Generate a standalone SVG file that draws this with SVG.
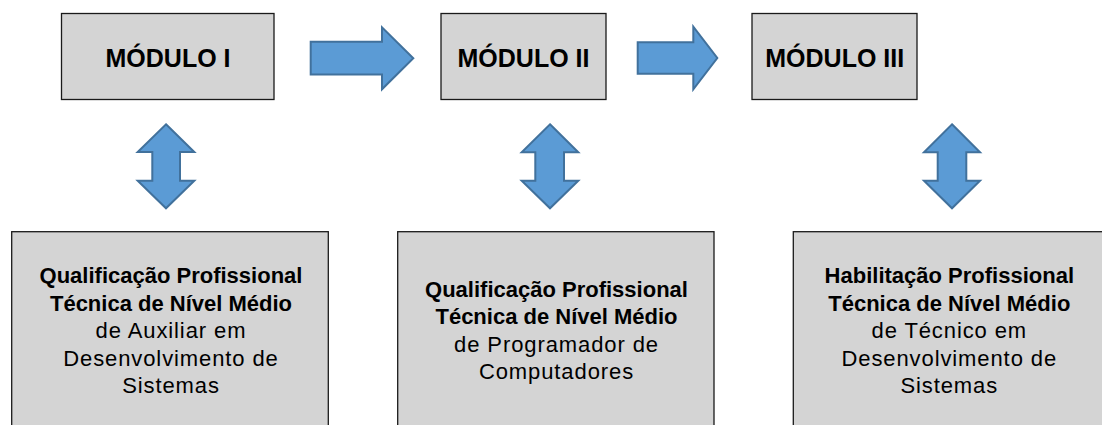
<svg xmlns="http://www.w3.org/2000/svg" width="1102" height="425" viewBox="0 0 1102 425">
<defs>
<style>
.box{fill:#d4d4d4;stroke:#1a1a1a;stroke-width:1.3}
.arr{fill:#5b9bd5;stroke:#41719c;stroke-width:2;stroke-linejoin:miter}
.t{font-family:"Liberation Sans",Arial,sans-serif;fill:#000;text-anchor:middle}
.h{font-size:25px;font-weight:bold}
.b{font-size:22px;font-weight:bold}
.n{font-size:22px;letter-spacing:0.9px}
</style>
</defs>
<rect width="1102" height="425" fill="#fff"/>
<g id="mod1">
<rect class="box" x="61.5" y="13.5" width="212.5" height="86"/>
<text class="t h" x="168" y="67">MÓDULO I</text>
</g>
<g id="mod2">
<rect class="box" x="441" y="13.5" width="165" height="86"/>
<text class="t h" x="523.5" y="67">MÓDULO II</text>
</g>
<g id="mod3">
<rect class="box" x="752" y="13.5" width="165" height="86"/>
<text class="t h" x="834.7" y="67">MÓDULO III</text>
</g>
<g id="q1">
<rect class="box" x="11.7" y="231.7" width="316.6" height="200"/>
<text class="t b" x="171" y="283">Qualificação Profissional</text>
<text class="t b" x="171" y="310.5">Técnica de Nível Médio</text>
<text class="t n" x="171" y="338">de Auxiliar em</text>
<text class="t n" x="171" y="365.5">Desenvolvimento de</text>
<text class="t n" x="171" y="393">Sistemas</text>
</g>
<g id="q2">
<rect class="box" x="397.7" y="231.7" width="316.3" height="200"/>
<text class="t b" x="556.5" y="296.5">Qualificação Profissional</text>
<text class="t b" x="556.5" y="324">Técnica de Nível Médio</text>
<text class="t n" x="556.5" y="351.5">de Programador de</text>
<text class="t n" x="556.5" y="379">Computadores</text>
</g>
<g id="h3">
<rect class="box" x="793.3" y="231.7" width="316" height="200"/>
<text class="t b" x="949.3" y="283">Habilitação Profissional</text>
<text class="t b" x="949.3" y="310.5">Técnica de Nível Médio</text>
<text class="t n" x="949.3" y="338">de Técnico em</text>
<text class="t n" x="949.3" y="365.5">Desenvolvimento de</text>
<text class="t n" x="949.3" y="393">Sistemas</text>
</g>
<g id="connectors">
<polygon class="arr" points="310.7,41.7 382,41.7 382,27.3 413.3,58.3 382,89.3 382,74.5 310.7,74.5"/>
<polygon class="arr" points="637.7,42.3 693.3,42.3 693.3,26.7 717.3,58 693.3,89.3 693.3,73.7 637.7,73.7"/>
<polygon class="arr" points="166,124.3 194.3,152 180,152 180,180.7 194.3,180.7 166,208.3 137.7,180.7 152.3,180.7 152.3,152 137.7,152"/>
<polygon class="arr" points="550,124.3 578.3,152.3 564,152.3 564,180.7 578.3,180.7 550,208.3 521.7,180.7 535.3,180.7 535.3,152.3 521.7,152.3"/>
<polygon class="arr" points="952,124.3 980,152.3 966.3,152.3 966.3,180.7 980,180.7 952,208.3 924,180.7 937.7,180.7 937.7,152.3 924,152.3"/>
</g>
</svg>
